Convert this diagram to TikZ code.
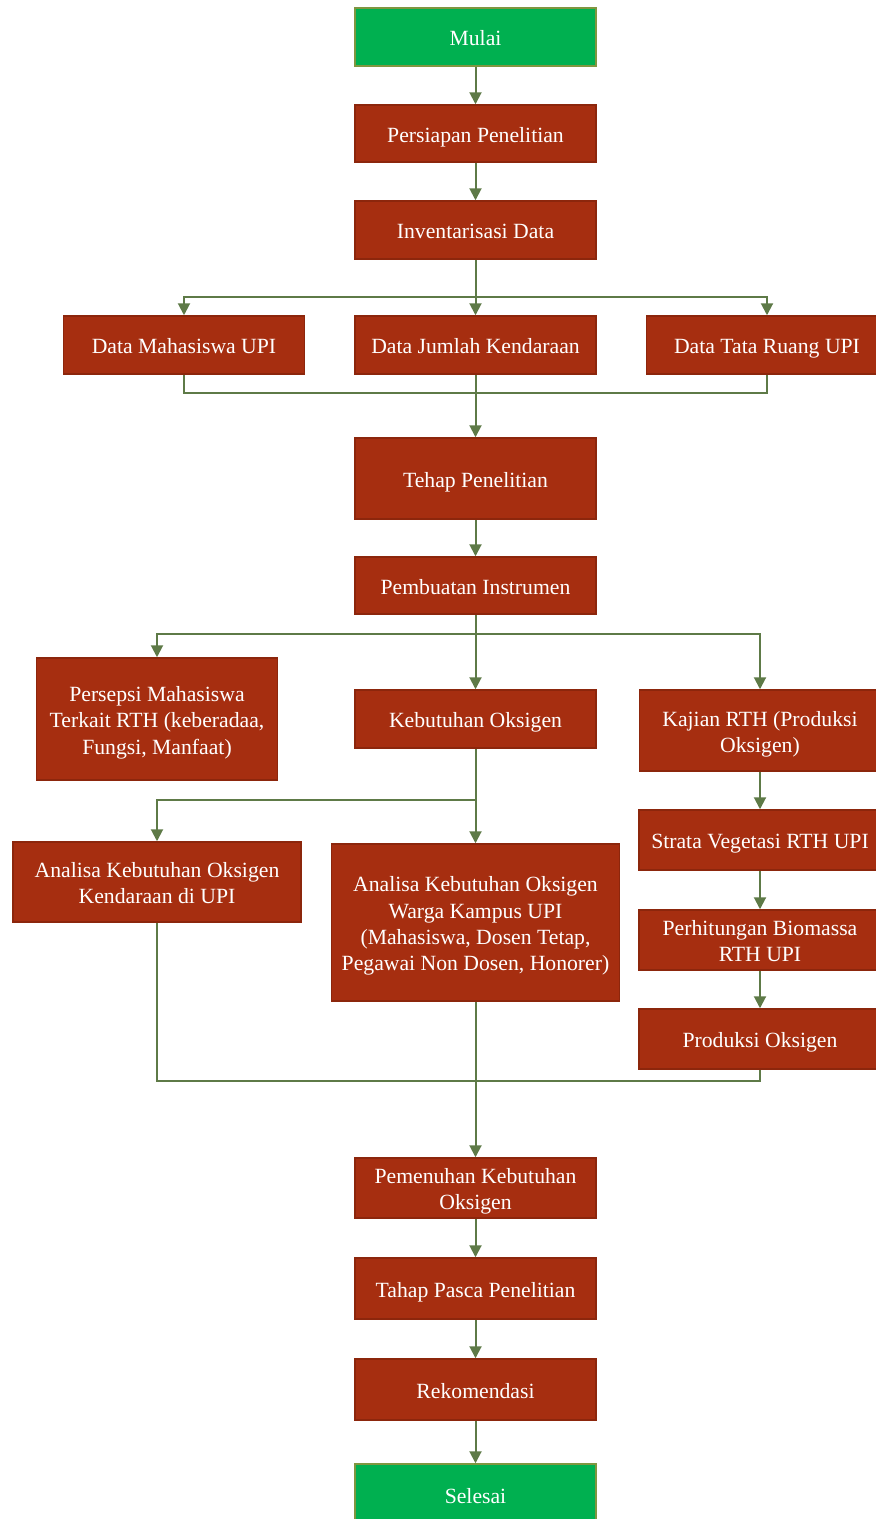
\documentclass[tikz,border=0pt]{standalone}
\usepackage{fontspec}
\setmainfont{Liberation Serif}
\usetikzlibrary{arrows.meta}
\definecolor{boxred}{RGB}{166,46,16}
\definecolor{boxredline}{RGB}{140,38,12}
\definecolor{boxgreen}{RGB}{0,176,80}
\definecolor{greenline}{RGB}{128,150,64}
\definecolor{arrcol}{RGB}{94,122,71}
\newcommand{\bt}[1]{\raisebox{-3.5pt}[\height][\depth]{\begin{tabular}{@{}c@{}}#1\end{tabular}}}
\tikzset{
  box/.style={draw=boxredline, fill=boxred, line width=1.5pt, text=white, inner sep=0pt,
     font=\fontsize{21.7}{26.3}\selectfont, minimum width=241pt},
  gbox/.style={box, draw=greenline, fill=boxgreen},
  conn/.style={draw=arrcol, line width=2pt},
  arr/.style={conn, -{Triangle[length=12pt,width=12pt]}}
}
\begin{document}
\begin{tikzpicture}[x=1pt,y=-1pt]
\clip (0,0) rectangle (876,1519);
\useasboundingbox (0,0) rectangle (876,1519);
\fill[white] (0,0) rectangle (876,1519);
% main column
\node[gbox, minimum height=58pt] (mulai) at (475.5,37) {\bt{Mulai}};
\node[box, minimum height=57pt] (persiapan) at (475.5,133.5) {\bt{Persiapan Penelitian}};
\node[box, minimum height=58pt] (invent) at (475.5,230) {\bt{Inventarisasi Data}};
\node[box, minimum height=58pt] (datamhs) at (184,345) {\bt{Data Mahasiswa UPI}};
\node[box, minimum height=58pt] (datajml) at (475.5,345) {\bt{Data Jumlah Kendaraan}};
\node[box, minimum height=58pt] (datatata) at (767,345) {\bt{Data Tata Ruang UPI}};
\node[box, minimum height=81pt] (tehap) at (475.5,478.5) {\bt{Tehap Penelitian}};
\node[box, minimum height=57pt] (pembuatan) at (475.5,585.5) {\bt{Pembuatan Instrumen}};
\node[box, minimum height=122pt] (persepsi) at (157,719) {\bt{Persepsi Mahasiswa\\Terkait RTH (keberadaa,\\Fungsi, Manfaat)}};
\node[box, minimum height=58pt] (kebutuhan) at (475.5,719) {\bt{Kebutuhan Oksigen}};
\node[box, minimum height=81pt] (kajian) at (760,730.5) {\bt{Kajian RTH (Produksi\\Oksigen)}};
\node[box, minimum width=288pt, minimum height=80pt] (anak) at (157,882) {\bt{Analisa Kebutuhan Oksigen\\Kendaraan di UPI}};
\node[box, minimum width=288pt, minimum height=157pt] (anaw) at (475.5,922.5) {\bt{Analisa Kebutuhan Oksigen\\Warga Kampus UPI\\(Mahasiswa, Dosen Tetap,\\Pegawai Non Dosen, Honorer)}};
\node[box, minimum width=242pt, minimum height=60pt] (strata) at (760,840) {\bt{Strata Vegetasi RTH UPI}};
\node[box, minimum width=242pt, minimum height=60pt] (hitung) at (760,940) {\bt{Perhitungan Biomassa\\RTH UPI}};
\node[box, minimum width=242pt, minimum height=60pt] (produksi) at (760,1039) {\bt{Produksi Oksigen}};
\node[box, minimum height=60pt] (pemenuhan) at (475.5,1188) {\bt{Pemenuhan Kebutuhan\\Oksigen}};
\node[box, minimum height=61pt] (pasca) at (475.5,1288.5) {\bt{Tahap Pasca Penelitian}};
\node[box, minimum height=61pt] (rekom) at (475.5,1389.5) {\bt{Rekomendasi}};
\node[gbox, minimum height=61pt] (selesai) at (475.5,1494.5) {\bt{Selesai}};
% junction coordinates
\coordinate (b1) at (475.5,297);
\coordinate (m1) at (475.5,393);
\coordinate (b2) at (475.5,634);
\coordinate (b3) at (475.5,800);
\coordinate (m2) at (475.5,1081);
% connectors
\draw[arr] (mulai) -- (persiapan);
\draw[arr] (persiapan) -- (invent);
\draw[arr] (invent) -- (datajml);
\draw[arr] (b1) -| (datamhs.north);
\draw[arr] (b1) -| (datatata.north);
\draw[conn] (datamhs.south) |- (m1);
\draw[conn] (datatata.south) |- (m1);
\draw[arr] (datajml) -- (tehap);
\draw[arr] (tehap) -- (pembuatan);
\draw[arr] (pembuatan) -- (kebutuhan);
\draw[arr] (b2) -| (persepsi.north);
\draw[arr] (b2) -| (kajian.north);
\draw[arr] (kebutuhan) -- (anaw);
\draw[arr] (b3) -| (anak.north);
\draw[arr] (kajian) -- (strata);
\draw[arr] (strata) -- (hitung);
\draw[arr] (hitung) -- (produksi);
\draw[conn] (anak.south) |- (m2);
\draw[conn] (produksi.south) |- (m2);
\draw[arr] (anaw) -- (pemenuhan);
\draw[arr] (pemenuhan) -- (pasca);
\draw[arr] (pasca) -- (rekom);
\draw[arr] (rekom) -- (selesai);
\end{tikzpicture}
\end{document}
